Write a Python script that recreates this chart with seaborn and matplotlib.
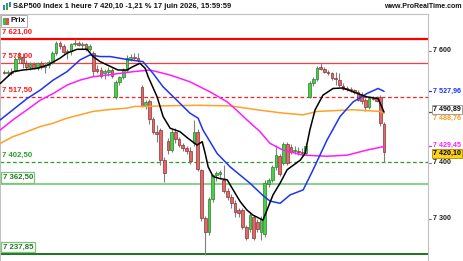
import matplotlib
matplotlib.use("Agg")
import matplotlib.pyplot as plt
from matplotlib.patches import Rectangle
import seaborn as sns
import numpy as np

sns.set_style("white")
plt.rcParams['font.family'] = ['Liberation Sans', 'DejaVu Sans']

# ---------------- data ----------------
opens = [7562, 7560, 7563, 7565, 7586, 7590, 7578, 7572, 7576, 7570,
         7578, 7572, 7575, 7580, 7596, 7614, 7608, 7598, 7600, 7612,
         7615, 7610, 7612, 7604, 7596, 7568, 7566, 7560, 7562, 7566,
         7518, 7545, 7553, 7566, 7586, 7590, 7588, 7536, 7502, 7510,
         7478, 7456, 7458, 7406, 7440, 7424, 7456, 7442, 7432, 7426,
         7422, 7435, 7456, 7388, 7302, 7276, 7336, 7378, 7380, 7370,
         7350, 7340, 7328, 7316, 7316, 7286, 7283, 7304, 7294, 7276,
         7274, 7362, 7370, 7392, 7412, 7400, 7434, 7428, 7422, 7422,
         7420, 7418, 7518, 7542, 7550, 7572, 7568, 7562, 7560, 7552,
         7548, 7538, 7534, 7532, 7530, 7526, 7522, 7512, 7500, 7516,
         7516, 7518, 7470]
highs = [7566, 7566, 7570, 7590, 7598, 7597, 7584, 7580, 7581, 7580,
         7582, 7580, 7584, 7600, 7618, 7618, 7612, 7604, 7615, 7622,
         7618, 7616, 7615, 7612, 7600, 7575, 7572, 7568, 7572, 7570,
         7548, 7556, 7570, 7592, 7594, 7596, 7597, 7540, 7512, 7514,
         7482, 7468, 7462, 7410, 7444, 7460, 7462, 7446, 7436, 7430,
         7428, 7476, 7460, 7390, 7306, 7340, 7380, 7386, 7388, 7396,
         7356, 7344, 7334, 7320, 7320, 7290, 7310, 7308, 7300, 7306,
         7370, 7374, 7396, 7432, 7416, 7438, 7438, 7434, 7430, 7428,
         7426, 7436, 7546, 7554, 7574, 7578, 7572, 7566, 7562, 7562,
         7560, 7542, 7538, 7536, 7532, 7530, 7526, 7516, 7520, 7520,
         7520, 7522, 7474]
lows = [7558, 7556, 7557, 7563, 7578, 7570, 7566, 7566, 7568, 7566,
        7568, 7560, 7570, 7576, 7592, 7604, 7595, 7586, 7592, 7608,
        7608, 7604, 7600, 7600, 7556, 7560, 7552, 7550, 7555, 7552,
        7515, 7540, 7550, 7562, 7582, 7584, 7580, 7500, 7496, 7470,
        7452, 7437, 7396, 7366, 7416, 7420, 7436, 7428, 7422, 7416,
        7398, 7430, 7386, 7296, 7236, 7272, 7330, 7368, 7374, 7346,
        7334, 7320, 7304, 7304, 7282, 7262, 7276, 7262, 7276, 7262,
        7268, 7358, 7366, 7388, 7376, 7396, 7396, 7416, 7416, 7414,
        7412, 7414, 7516, 7538, 7546, 7566, 7560, 7557, 7548, 7540,
        7536, 7530, 7528, 7526, 7524, 7510, 7506, 7492, 7496, 7512,
        7508, 7466, 7402]
closes = [7560, 7563, 7561, 7586, 7590, 7578, 7572, 7576, 7570, 7578,
          7572, 7575, 7580, 7596, 7614, 7608, 7598, 7600, 7612, 7615,
          7610, 7612, 7604, 7608, 7565, 7565, 7556, 7564, 7566, 7556,
          7545, 7553, 7566, 7588, 7590, 7588, 7584, 7502, 7508, 7478,
          7456, 7452, 7406, 7382, 7424, 7456, 7442, 7432, 7426, 7422,
          7404, 7456, 7390, 7302, 7276, 7336, 7378, 7382, 7384, 7350,
          7340, 7328, 7312, 7310, 7286, 7266, 7307, 7266, 7282, 7300,
          7364, 7370, 7392, 7414, 7380, 7434, 7400, 7420, 7424, 7420,
          7418, 7430, 7542, 7550, 7570, 7568, 7562, 7560, 7552, 7550,
          7540, 7532, 7532, 7530, 7526, 7512, 7510, 7500, 7516, 7514,
          7510, 7472, 7420.10]

# moving averages, read at sampled candle positions
ma_black_x = [-1, 2.4, 5.1, 8.9, 11.8, 15, 16.9, 19.6, 22.3, 23.9, 25.8, 27.7, 30.6, 33, 34.6,
              36.5, 37.9, 38.7, 41.1, 42.7, 44.6, 47.2, 49.4, 51.8, 53.2, 54, 54.8, 56.1, 58,
              59.9, 61.5, 63.4, 65.2, 66.8, 69.5, 70.6, 72.2, 74.1, 76, 79.5, 80.8, 82.1, 83.5,
              85.6, 88.3, 91, 93.7, 97.4, 100.4, 102]
ma_black_y = [7542, 7563, 7566, 7569, 7575, 7587, 7596, 7603, 7603, 7590, 7581, 7575, 7566, 7566, 7572,
              7578, 7569, 7554, 7518, 7483, 7462, 7456, 7444, 7432, 7438, 7417, 7393, 7376, 7372,
              7370, 7352, 7331, 7316, 7307, 7298, 7316, 7343, 7364, 7388, 7405, 7417, 7459, 7495,
              7521, 7533, 7534, 7527, 7518, 7515, 7490.89]
ma_blue_x = [-1, 2.4, 6.2, 9.7, 13.2, 16.9, 20.4, 23.1, 25.8, 28.5, 31.1, 33.8, 37.3, 40, 42.7,
             46.4, 49.9, 52.1, 53.4, 57.2, 60.7, 66, 69.5, 71.4, 74.1, 76.8, 80.3, 82.9, 86.7,
             90.2, 93.7, 97.4, 100.4, 102]
ma_blue_y = [7477, 7495, 7515, 7530, 7548, 7563, 7584, 7593, 7590, 7590, 7587, 7584, 7581, 7560, 7536,
             7512, 7489, 7480, 7459, 7417, 7393, 7364, 7342, 7332, 7328, 7343, 7352, 7387, 7441,
             7483, 7509, 7524, 7533, 7527.96]
ma_magenta_x = [-1, 2.4, 6.2, 9.7, 13.2, 16.9, 20.4, 23.9, 27.7, 31.1, 34.6, 39.2, 44.6, 49.9,
                55.3, 59.9, 61.5, 65.2, 68.7, 71.4, 74.9, 80.3, 86.7, 92.1, 97.4, 102]
ma_magenta_y = [7459, 7477, 7495, 7512, 7524, 7539, 7548, 7554, 7557, 7560, 7563, 7566, 7557, 7545,
                7527, 7509, 7500, 7477, 7456, 7435, 7423, 7414, 7412, 7414, 7423, 7429.45]
ma_orange_x = [-1, 2.4, 6.2, 9.7, 13.2, 16.9, 20.4, 23.9, 27.7, 33, 35.2, 38.4, 42.7, 51.8, 60.7,
               67.9, 74.9, 80.3, 84, 93.7, 101, 102]
ma_orange_y = [7435, 7447, 7456, 7465, 7471, 7480, 7486, 7492, 7495, 7498, 7501, 7501, 7502, 7503, 7502,
               7495, 7489, 7486, 7492, 7495, 7492, 7488.76]

levels = [7621.00, 7578.00, 7517.50, 7402.50, 7362.50, 7237.85]
level_labels = ["7 621,00", "7 578,00", "7 517,50", "7 402,50", "7 362,50", "7 237,85"]
axis_ticks = [7600, 7400, 7300]
axis_tick_labels = ["7 600", "7 400", "7 300"]
title_text = "S&P500 Index 1 heure 7 420,10 -1,21 % 17 juin 2026, 15:59:59"

# ---------------- figure ----------------
W, H = 464, 261
fig = plt.figure(figsize=(W / 100, H / 100), dpi=100)
fig.patch.set_facecolor("white")
ax = fig.add_axes([0, 0, 428 / W, 247 / H])
ax.set_xlim(-1.07, 113.8)
ax.set_ylim(7225, 7666)
ax.set_xticks([])
ax.set_yticks([])
for s in ["left", "right", "top"]:
    ax.spines[s].set_color("#c0c0c0")
    ax.spines[s].set_linewidth(0.8)
ax.spines["bottom"].set_visible(False)

# horizontal levels
lv_styles = [
    dict(color="#ff0000", lw=1.6, ls="-"),
    dict(color="#ff3a3a", lw=0.9, ls="-"),
    dict(color="#ff2020", lw=0.9, ls=(0, (3, 2))),
    dict(color="#2a9e2a", lw=0.9, ls=(0, (3, 2))),
    dict(color="#8fcf8f", lw=1.5, ls="-"),
    dict(color="#0b6a0b", lw=1.3, ls="-"),
]
for p, st in zip(levels, lv_styles):
    ax.axhline(p, zorder=1, **st)

# candles
o = np.array(opens, float); h = np.array(highs, float)
l = np.array(lows, float); c = np.array(closes, float)
x = np.arange(len(c))
up = c >= o
face = np.where(up, "#48d048", "#e06868")
edge = np.where(up, "#2f7d2f", "#8a3434")
ax.vlines(x, l, h, color="#808080", lw=0.8, zorder=2)
ax.bar(x, np.maximum(np.abs(c - o), 0.6), bottom=np.minimum(o, c), width=0.72,
       color=face, edgecolor=edge, linewidth=0.5, zorder=3)

# moving averages
sns.lineplot(x=ma_orange_x, y=ma_orange_y, ax=ax, color="#ffa126", lw=1.1, zorder=4)
sns.lineplot(x=ma_magenta_x, y=ma_magenta_y, ax=ax, color="#ff1cff", lw=1.1, zorder=4)
sns.lineplot(x=ma_blue_x, y=ma_blue_y, ax=ax, color="#1c35f0", lw=1.1, zorder=5)
sns.lineplot(x=ma_black_x, y=ma_black_y, ax=ax, color="#000000", lw=1.1, zorder=6)

tr = ax.get_yaxis_transform()
fs = 5.6
rfs = 5.15

# left level labels
red_txt = "#ff1a1a"
for i, (p, t) in enumerate(zip(levels, level_labels)):
    if i < 4:
        col = red_txt if i < 3 else "#2a9e2a"
        ax.annotate(t, xy=(0.004, p), xycoords=tr, xytext=(0, 3), textcoords="offset pixels",
                    color=col, fontsize=fs, fontweight="bold", va="bottom", ha="left", zorder=7)
    else:
        ax.annotate(t, xy=(0.006, p), xycoords=tr, xytext=(0, 3), textcoords="offset pixels",
                    color="#1f7a1f", fontsize=fs, fontweight="bold", va="bottom", ha="left", zorder=7,
                    bbox=dict(boxstyle="square,pad=0.2", fc="white", ec="#7cc47c", lw=0.9))

# right axis tick labels
for p, t in zip(axis_ticks, axis_tick_labels):
    ax.plot([1.0, 1.008], [p, p], transform=tr, clip_on=False, color="#808080", lw=0.8)
    ax.text(1.011, p, t, transform=tr, fontsize=rfs, fontweight="bold", va="center", ha="left",
            color="#222222", clip_on=False)

def rlabel(p, t, col, dy=0, box=None, tick=None):
    if tick:
        ax.plot([1.0, 1.008], [p, p], transform=tr, clip_on=False, color=tick, lw=0.9)
    ax.annotate(t, xy=(1.011, p), xycoords=tr, xytext=(0, dy), textcoords="offset pixels",
                fontsize=rfs, fontweight="bold", va="center", ha="left", color=col,
                annotation_clip=False, bbox=box)

rlabel(ma_blue_y[-1], "7 527,96", "#1c35f0", tick="#1c35f0")
rlabel(ma_black_y[-1], "7 490,89", "#111111", dy=3, tick="#555555",
       box=dict(boxstyle="square,pad=0.15", fc="white", ec="#a0a0a0", lw=0.7))
rlabel(ma_orange_y[-1], "7 488,76", "#ff9a1a", dy=-5)
rlabel(ma_magenta_y[-1], "7 429,45", "#ff1cff", dy=1.5, tick="#ff1cff")
rlabel(closes[-1], "7 420,10", "#000000", dy=-1.5,
       box=dict(boxstyle="square,pad=0.15", fc="#ffd21a", ec="#b08a00", lw=0.6))

# title bar
fig.text(13 / W, 1 - 7 / H, title_text, fontsize=5.45, fontweight="bold", va="center", ha="left",
         color="#111111")
fig.text(462 / W, 1 - 7 / H, "www.ProRealTime.com", fontsize=5.0, fontweight="bold",
         va="center", ha="right", color="#111111")
# title icon
for (x0, y0, w, hh, col) in [(3, 5, 1.6, 5, "#3a7ad8"), (6, 3, 1.6, 7, "#2fae2f"), (9, 2, 1.6, 5, "#3a7ad8")]:
    fig.add_artist(Rectangle((x0 / W, 1 - (y0 + hh) / H), w / W, hh / H,
                             transform=fig.transFigure, fc=col, ec="none"))

# "Prix" legend box
fig.add_artist(Rectangle((1 / W, 1 - 27 / H), 26 / W, 12 / H, transform=fig.transFigure,
                         fc="white", ec="#b0b0b0", lw=0.7, zorder=10))
fig.add_artist(Rectangle((3 / W, 1 - 24.5 / H), 3 / W, 7 / H, transform=fig.transFigure,
                         fc="#3cbf3c", ec="none", zorder=11))
fig.add_artist(Rectangle((6 / W, 1 - 24.5 / H), 3 / W, 7 / H, transform=fig.transFigure,
                         fc="#e05050", ec="none", zorder=11))
fig.text(11 / W, 1 - 21 / H, "Prix", fontsize=5.8, fontweight="bold", va="center", ha="left",
         color="#111111", zorder=11)

fig.savefig("out.png", dpi=100, facecolor="white")
